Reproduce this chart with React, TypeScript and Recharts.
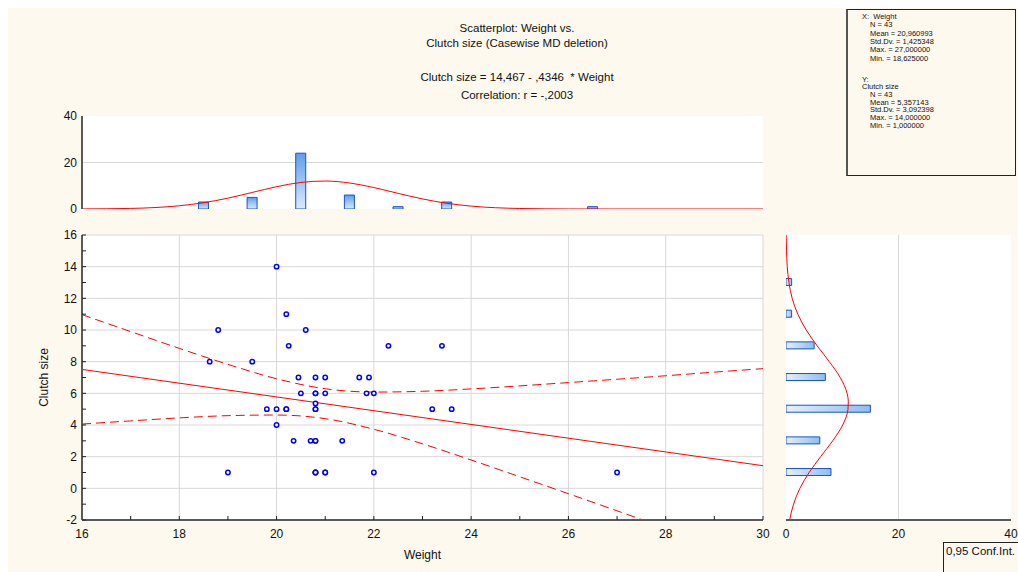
import React from "react";
import { ComposedChart, Scatter, Line, Bar, XAxis, YAxis, CartesianGrid } from "recharts";

// raw cases (duplicates included, N = 43)
const weights = [
  20.0, 20.2, 18.8, 20.6, 20.25, 22.3, 23.4, 18.625, 19.5, 20.45,
  20.8, 21.0, 21.7, 21.9, 20.5, 20.8, 21.0, 21.85, 22.0, 19.8,
  20.0, 20.2, 20.8, 20.8, 23.2, 23.6, 20.0, 20.35, 20.7, 20.8,
  21.35, 19.0, 20.8, 21.0, 22.0, 27.0, 20.8, 20.8, 21.0, 20.8,
  20.2, 20.8, 20.8,
];
const clutchSizes = [
  14, 11, 10, 10, 9, 9, 9, 8, 8, 7,
  7, 7, 7, 7, 6, 6, 6, 6, 6, 5,
  5, 5, 5, 5.36, 5, 5, 4, 3, 3, 3,
  3, 1, 1, 1, 1, 1, 1, 1, 1, 3,
  5, 5, 6,
];

// histogram of Weight (top)
const weightBins = [18.5, 19.5, 20.5, 21.5, 22.5, 23.5, 26.5];
const weightCounts = [3, 5, 24, 6, 1, 3, 1];
const weightFitX = [16, 17, 17.5, 18, 18.5, 19, 19.5, 20, 20.5, 21, 21.5, 22, 22.5, 23, 23.5, 24, 24.5, 25, 26, 27, 30];
const weightFitY = [0.03, 0.25, 0.63, 1.39, 2.71, 4.67, 7.12, 9.59, 11.42, 12.03, 11.2, 9.23, 6.72, 4.33, 2.46, 1.24, 0.55, 0.22, 0.02, 0, 0];

// histogram of Clutch size (right)
const clutchBins = [1, 3, 5, 7, 9, 11, 13];
const clutchCounts = [8, 6, 15, 7, 5, 1, 1];
const clutchFitY = [-2, -1, 0, 1, 2, 3, 4, 5, 5.5, 6, 7, 8, 9, 10, 11, 12, 13, 14, 15, 16];
const clutchFitX = [0.65, 1.34, 2.47, 4.11, 6.16, 8.3, 10.08, 11.02, 11.08, 10.86, 9.64, 7.7, 5.54, 3.6, 2.1, 1.1, 0.52, 0.22, 0.09, 0.03];

// regression line and 0.95 confidence band
const fitX = [16, 30];
const fitY = [7.51, 1.43];
const upperX = [16, 17, 18, 19, 20, 21, 22, 23, 24, 25, 26, 27, 28, 29, 30];
const upperY = [10.97, 9.9, 8.84, 7.83, 6.92, 6.29, 6.08, 6.13, 6.28, 6.47, 6.68, 6.89, 7.11, 7.34, 7.56];
const lowerX = [16, 17, 18, 19, 20, 21, 22, 23, 24, 25, 26, 27, 27.53];
const lowerY = [4.06, 4.26, 4.45, 4.59, 4.63, 4.4, 3.73, 2.81, 1.79, 0.73, -0.34, -1.42, -2];

// ticks
const weightTicks = [16, 17, 18, 19, 20, 21, 22, 23, 24, 25, 26, 27, 28, 29, 30];
const weightGrid = [16, 18, 20, 22, 24, 26, 28, 30];
const clutchTicks = [-2, -1, 0, 1, 2, 3, 4, 5, 6, 7, 8, 9, 10, 11, 12, 13, 14, 15, 16];
const clutchGrid = [-2, 0, 2, 4, 6, 8, 10, 12, 14, 16];
const countTicksTop = [0, 20, 40];
const countTicksSide = [0, 20, 40];

const titleLines = [
  "Scatterplot: Weight vs.",
  "Clutch size (Casewise MD deletion)",
  "Clutch size = 14,467 - ,4346  * Weight",
  "Correlation: r = -,2003",
];
const titleTops = [13, 28, 61.5, 80];

// [text, indented, centre y on the page]
const statsLines: [string, boolean, number][] = [
  ["X:  Weight", false, 16.5],
  ["N = 43", true, 24.8],
  ["Mean = 20,960993", true, 33.1],
  ["Std.Dv. = 1,425348", true, 41.4],
  ["Max. = 27,000000", true, 49.7],
  ["Min. = 18,625000", true, 58],
  ["Y:", false, 79],
  ["Clutch size", false, 86.7],
  ["N = 43", true, 94.4],
  ["Mean = 5,357143", true, 102.1],
  ["Std.Dv. = 3,092398", true, 109.8],
  ["Max. = 14,000000", true, 117.5],
  ["Min. = 1,000000", true, 125.2],
];

const points = weights.map((x, i) => ({ x, y: clutchSizes[i] }));
const weightHist = weightBins.map((x, i) => ({ x, count: weightCounts[i] }));
const weightFit = weightFitX.map((x, i) => ({ x, fit: weightFitY[i] }));
const clutchHist = clutchBins.map((y, i) => ({ y, count: clutchCounts[i] }));
const clutchFit = clutchFitY.map((y, i) => ({ y, fit: clutchFitX[i] }));
const regression = fitX.map((x, i) => ({ x, y: fitY[i] }));
const upperBand = upperX.map((x, i) => ({ x, y: upperY[i] }));
const lowerBand = lowerX.map((x, i) => ({ x, y: lowerY[i] }));

const CREAM = "#fdf9ef";
const GRID = "#d8d8d8";
const AXIS = { stroke: "#5a5a5a", strokeWidth: 2 };
const FRAME = { stroke: "#111", strokeWidth: 1 };
const TICK = { fontSize: 12, fill: "#111" };
const RED = "#ff0000";
const BAR_EDGE = "#1c52c4";

const evenOnly = (v: number) => (v % 2 === 0 ? String(v) : "");
const blank = () => "";

const Dot = (p: any) => (
  <circle cx={p.cx} cy={p.cy} r={2.2} fill="#fff" stroke="#0000ff" strokeWidth={1.5} />
);

const TopHistogram = () => (
  <ComposedChart width={770} height={115} data={weightHist} margin={{ top: 11, right: 15, bottom: 11, left: 34 }}>
    <defs>
      <linearGradient id="histTop" x1="0" y1="0" x2="0" y2="1">
        <stop offset="0%" stopColor="#5f9ded" />
        <stop offset="100%" stopColor="#dcebfc" />
      </linearGradient>
    </defs>
    <CartesianGrid fill="#fff" stroke={GRID} horizontalValues={[20]} vertical={false} />
    <XAxis type="number" dataKey="x" domain={[16, 30]} allowDataOverflow height={0} tick={false} tickLine={false} axisLine={AXIS} />
    <XAxis
      xAxisId="top"
      orientation="top"
      type="number"
      domain={[16, 30]}
      allowDataOverflow
      height={0}
      ticks={weightGrid}
      interval={0}
      tickSize={-3}
      tickFormatter={blank}
      tickLine={{ stroke: "#111" }}
      axisLine={FRAME}
    />
    <YAxis type="number" domain={[0, 40]} allowDataOverflow ticks={countTicksTop} interval={0} width={40} tickSize={0} tickMargin={5} tick={TICK} axisLine={AXIS} />
    <YAxis
      yAxisId="right"
      orientation="right"
      type="number"
      domain={[0, 40]}
      allowDataOverflow
      width={0}
      ticks={[20]}
      tickSize={-3}
      tickFormatter={blank}
      tickLine={{ stroke: "#111" }}
      axisLine={FRAME}
    />
    <Bar dataKey="count" barSize={10} fill="url(#histTop)" stroke={BAR_EDGE} strokeWidth={1} isAnimationActive={false} />
    <Line data={weightFit} dataKey="fit" type="monotone" stroke={RED} strokeWidth={1} dot={false} isAnimationActive={false} />
  </ComposedChart>
);

const MainScatter = () => (
  <ComposedChart width={770} height={350} margin={{ top: 15, right: 15, bottom: 20, left: 34 }}>
    <CartesianGrid fill="#fff" stroke={GRID} horizontalValues={clutchGrid} verticalValues={weightGrid} />
    <XAxis
      type="number"
      dataKey="x"
      domain={[16, 30]}
      allowDataOverflow
      ticks={weightTicks}
      interval={0}
      height={30}
      tickSize={-4}
      tickMargin={13}
      tickFormatter={evenOnly}
      tick={TICK}
      tickLine={{ stroke: "#222" }}
      axisLine={AXIS}
      label={{ value: "Weight", position: "bottom", offset: 0, fontSize: 12, fill: "#111" }}
    />
    <XAxis xAxisId="top" orientation="top" type="number" domain={[16, 30]} allowDataOverflow height={0} tick={false} tickLine={false} axisLine={FRAME} />
    <YAxis
      type="number"
      dataKey="y"
      domain={[-2, 16]}
      allowDataOverflow
      ticks={clutchTicks}
      interval={0}
      width={40}
      tickSize={-4}
      tickMargin={9}
      tickFormatter={evenOnly}
      tick={TICK}
      tickLine={{ stroke: "#222" }}
      axisLine={AXIS}
      label={{ value: "Clutch size", angle: -90, position: "insideLeft", offset: 2, fontSize: 12, fill: "#111", style: { textAnchor: "middle" } }}
    />
    <YAxis
      yAxisId="right"
      orientation="right"
      type="number"
      domain={[-2, 16]}
      allowDataOverflow
      width={0}
      ticks={clutchTicks}
      interval={0}
      tickSize={-4}
      tickFormatter={blank}
      tickLine={{ stroke: "#111" }}
      axisLine={FRAME}
    />
    <Line data={upperBand} dataKey="y" type="monotone" stroke={RED} strokeWidth={1} strokeDasharray="9 5" dot={false} isAnimationActive={false} />
    <Line data={lowerBand} dataKey="y" type="monotone" stroke={RED} strokeWidth={1} strokeDasharray="9 5" dot={false} isAnimationActive={false} />
    <Line data={regression} dataKey="y" type="linear" stroke={RED} strokeWidth={1} dot={false} isAnimationActive={false} />
    <Scatter data={points} shape={Dot} isAnimationActive={false} />
  </ComposedChart>
);

const SideHistogram = () => (
  <ComposedChart layout="vertical" width={240} height={350} data={clutchHist} margin={{ top: 15, right: 7, bottom: 20, left: 8 }}>
    <defs>
      <linearGradient id="histSide" x1="0" y1="0" x2="1" y2="0">
        <stop offset="0%" stopColor="#e4f0fd" />
        <stop offset="100%" stopColor="#8dbdf0" />
      </linearGradient>
    </defs>
    <CartesianGrid fill="#fff" stroke={GRID} horizontal={false} verticalValues={[20]} />
    <XAxis type="number" domain={[0, 40]} allowDataOverflow ticks={countTicksSide} interval={0} height={30} tickSize={0} tickMargin={9} tick={TICK} axisLine={AXIS} />
    <XAxis xAxisId="top" orientation="top" type="number" domain={[0, 40]} allowDataOverflow height={0} tick={false} tickLine={false} axisLine={FRAME} />
    <YAxis
      type="number"
      dataKey="y"
      domain={[-2, 16]}
      allowDataOverflow
      reversed
      ticks={clutchTicks}
      interval={0}
      width={0}
      tickSize={-3}
      tickFormatter={blank}
      tickLine={{ stroke: "#222" }}
      axisLine={AXIS}
    />
    <YAxis
      yAxisId="right"
      orientation="right"
      type="number"
      domain={[-2, 16]}
      allowDataOverflow
      reversed
      width={0}
      ticks={clutchGrid}
      interval={0}
      tickSize={-4}
      tickFormatter={blank}
      tickLine={{ stroke: "#111" }}
      axisLine={FRAME}
    />
    <Bar dataKey="count" barSize={7} fill="url(#histSide)" stroke={BAR_EDGE} strokeWidth={1} isAnimationActive={false} />
    <Line data={clutchFit} dataKey="fit" type="monotone" stroke={RED} strokeWidth={1} dot={false} isAnimationActive={false} />
  </ComposedChart>
);

export default function App() {
  return (
    <div style={{ position: "relative", width: 1018, height: 572, background: "#fff", overflow: "hidden" }}>
      <style>{"html,body{margin:0;padding:0;overflow:hidden}"}</style>
      <div
        style={{
          position: "absolute",
          left: 8,
          top: 8,
          width: 1010,
          height: 564,
          background: CREAM,
          overflow: "hidden",
          fontFamily: '"Liberation Sans", Arial, sans-serif',
          color: "#111",
        }}
      >
        {titleLines.map((t, i) => (
          <div
            key={i}
            style={{ position: "absolute", left: 309, top: titleTops[i], width: 400, textAlign: "center", fontSize: 11.5, lineHeight: "14px", whiteSpace: "pre" }}
          >
            {t}
          </div>
        ))}

        <div style={{ position: "absolute", left: 838, top: 1, width: 167, height: 165, border: "1px solid #222", borderLeft: "2px solid #555" }}>
          {statsLines.map(([t, indent, cy], i) => (
            <div
              key={i}
              style={{ position: "absolute", left: indent ? 22 : 14, top: cy - 10 - 4.5, fontSize: 7.5, lineHeight: "9px", whiteSpace: "pre" }}
            >
              {t}
            </div>
          ))}
        </div>

        <div style={{ position: "absolute", left: 0, top: 97 }}>
          <TopHistogram />
        </div>
        <div style={{ position: "absolute", left: 0, top: 212 }}>
          <MainScatter />
        </div>
        <div style={{ position: "absolute", left: 770, top: 212 }}>
          <SideHistogram />
        </div>

        <div
          style={{ position: "absolute", left: 935, top: 534, width: 100, height: 40, borderLeft: "1px solid #222", borderTop: "1px solid #222", fontSize: 11.5, lineHeight: "14px", padding: "1px 0 0 2px", whiteSpace: "pre" }}
        >
          0,95 Conf.Int.
        </div>
      </div>
    </div>
  );
}
